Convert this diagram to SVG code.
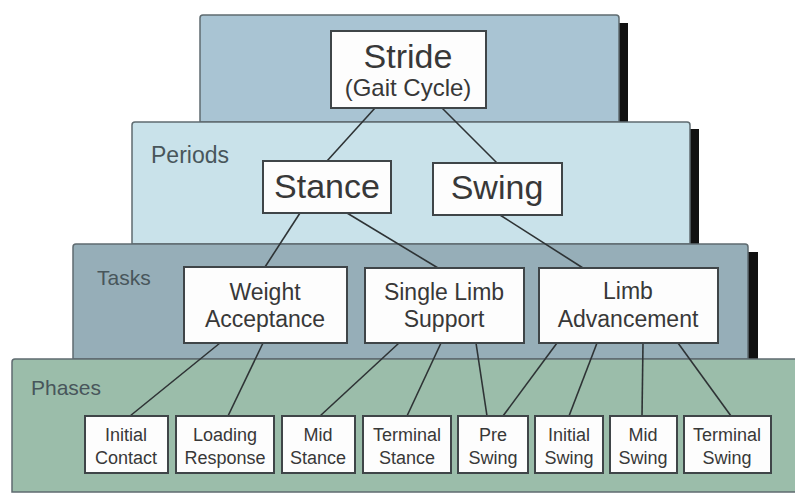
<svg xmlns="http://www.w3.org/2000/svg" width="795" height="495" viewBox="0 0 795 495">
<style>
  .layer { stroke: #5f6b70; stroke-width: 1.5; }
  .shadow { fill: #111; }
  .box { fill: #fdfdfd; stroke: #3f4548; stroke-width: 2; }
  .lbl { font-family: "Liberation Sans", Arial, sans-serif; fill: #48565b; font-size: 21px; }
  .t { font-family: "Liberation Sans", Arial, sans-serif; fill: #383838; text-anchor: middle; }
  .big { font-size: 34px; }
  .mid { font-size: 23px; }
  .sm { font-size: 18px; }
  .conn line { stroke: #2e3335; stroke-width: 1.6; }
</style>
<rect width="795" height="495" fill="#ffffff"/>

<g id="layer-stride">
  <rect class="shadow" x="619" y="23" width="9" height="99"/>
  <path class="layer" d="M200,122 V18 Q200,15 203,15 H616 Q619,15 619,18 V122 Z" fill="#a9c4d3"/>
</g>
<g id="layer-periods">
  <rect class="shadow" x="690" y="129" width="9" height="115"/>
  <path class="layer" d="M132,244 V125 Q132,122 135,122 H687 Q690,122 690,125 V244 Z" fill="#c9e2ea"/>
  <text class="lbl" x="151" y="163" style="font-size:23px">Periods</text>
</g>
<g id="layer-tasks">
  <rect class="shadow" x="748" y="252" width="10" height="107"/>
  <path class="layer" d="M73,359 V247 Q73,244 76,244 H745 Q748,244 748,247 V359 Z" fill="#96aeb8"/>
  <text class="lbl" x="97" y="285">Tasks</text>
</g>
<g id="layer-phases">
  <path class="layer" d="M12,492 V362 Q12,359 15,359 H797 V492 Z" fill="#9bbdaa"/>
  <text class="lbl" x="31" y="395">Phases</text>
</g>

<g class="conn" id="connectors">
  <line x1="375" y1="108" x2="327" y2="161"/>
  <line x1="442" y1="108" x2="497" y2="163"/>
  <line x1="300" y1="213" x2="265" y2="267"/>
  <line x1="347" y1="213" x2="438" y2="268"/>
  <line x1="500" y1="215" x2="583" y2="268"/>
  <line x1="220" y1="343" x2="130" y2="416"/>
  <line x1="263" y1="343" x2="228" y2="416"/>
  <line x1="399" y1="343" x2="320" y2="416"/>
  <line x1="441" y1="343" x2="407" y2="416"/>
  <line x1="476" y1="343" x2="487" y2="416"/>
  <line x1="557" y1="343" x2="503" y2="416"/>
  <line x1="597" y1="343" x2="569" y2="416"/>
  <line x1="643" y1="343" x2="642" y2="416"/>
  <line x1="678" y1="343" x2="731" y2="416"/>
</g>

<g id="stride">
  <rect class="box" x="331" y="31" width="155" height="77"/>
  <text class="t big" x="408" y="68">Stride</text>
  <text class="t" x="408" y="96" font-size="24">(Gait Cycle)</text>
</g>
<g id="stance">
  <rect class="box" x="263" y="161" width="128" height="52"/>
  <text class="t big" x="327" y="198">Stance</text>
</g>
<g id="swing">
  <rect class="box" x="433" y="163" width="129" height="52"/>
  <text class="t big" x="497" y="199">Swing</text>
</g>
<g id="weight-acceptance">
  <rect class="box" x="184" y="267" width="163" height="76"/>
  <text class="t mid" x="265" y="300">Weight</text>
  <text class="t mid" x="265" y="327">Acceptance</text>
</g>
<g id="single-limb-support">
  <rect class="box" x="365" y="268" width="159" height="75"/>
  <text class="t mid" x="444" y="300">Single Limb</text>
  <text class="t mid" x="444" y="327">Support</text>
</g>
<g id="limb-advancement">
  <rect class="box" x="539" y="268" width="179" height="75"/>
  <text class="t mid" x="628" y="299">Limb</text>
  <text class="t mid" x="628" y="327">Advancement</text>
</g>

<g id="initial-contact">
  <rect class="box" x="85" y="416" width="83" height="57"/>
  <text class="t sm" x="126" y="441">Initial</text>
  <text class="t sm" x="126" y="464">Contact</text>
</g>
<g id="loading-response">
  <rect class="box" x="176" y="416" width="98" height="57"/>
  <text class="t sm" x="225" y="441">Loading</text>
  <text class="t sm" x="225" y="464">Response</text>
</g>
<g id="mid-stance">
  <rect class="box" x="282" y="416" width="73" height="57"/>
  <text class="t sm" x="318" y="441">Mid</text>
  <text class="t sm" x="318" y="464">Stance</text>
</g>
<g id="terminal-stance">
  <rect class="box" x="363" y="416" width="88" height="57"/>
  <text class="t sm" x="407" y="441">Terminal</text>
  <text class="t sm" x="407" y="464">Stance</text>
</g>
<g id="pre-swing">
  <rect class="box" x="458" y="416" width="70" height="57"/>
  <text class="t sm" x="493" y="441">Pre</text>
  <text class="t sm" x="493" y="464">Swing</text>
</g>
<g id="initial-swing">
  <rect class="box" x="535" y="416" width="68" height="57"/>
  <text class="t sm" x="569" y="441">Initial</text>
  <text class="t sm" x="569" y="464">Swing</text>
</g>
<g id="mid-swing">
  <rect class="box" x="610" y="416" width="67" height="57"/>
  <text class="t sm" x="643" y="441">Mid</text>
  <text class="t sm" x="643" y="464">Swing</text>
</g>
<g id="terminal-swing">
  <rect class="box" x="684" y="416" width="87" height="57"/>
  <text class="t sm" x="727" y="441">Terminal</text>
  <text class="t sm" x="727" y="464">Swing</text>
</g>
</svg>
